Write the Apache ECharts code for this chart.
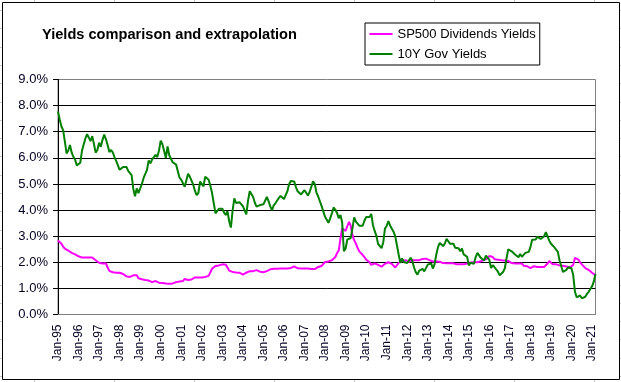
<!DOCTYPE html>
<html>
<head>
<meta charset="utf-8">
<script src="https://cdn.jsdelivr.net/npm/echarts@6/dist/echarts.min.js"></script>
<style>
html,body{margin:0;padding:0;background:#fff;}
#chart{width:621px;height:382px;}
</style>
</head>
<body>
<div id="chart"></div>
<script>
// ---- Data (monthly, Jan-95 .. Mar-21) ----
var monthNames = ['Jan','Feb','Mar','Apr','May','Jun','Jul','Aug','Sep','Oct','Nov','Dec'];
var firstYear = 1995, lastYear = 2021, lastYearMonths = 3;

// S&P 500 dividend yield, %
var dividendYield = [
  2.84,2.78,2.71,2.60,2.52,2.48,2.45,2.40,2.36,2.33,2.30,2.28,
  2.23,2.20,2.18,2.18,2.18,2.17,2.18,2.20,2.18,2.17,2.08,2.01,
  1.98,1.95,1.95,1.97,1.96,1.80,1.67,1.64,1.62,1.60,1.60,1.60,
  1.60,1.60,1.55,1.50,1.46,1.44,1.44,1.44,1.50,1.55,1.50,1.39,
  1.37,1.35,1.33,1.32,1.32,1.30,1.28,1.24,1.23,1.28,1.25,1.22,
  1.22,1.21,1.20,1.19,1.18,1.18,1.18,1.19,1.21,1.24,1.26,1.26,
  1.26,1.28,1.36,1.31,1.32,1.34,1.34,1.38,1.42,1.42,1.42,1.42,
  1.42,1.43,1.44,1.46,1.48,1.52,1.75,1.78,1.86,1.84,1.88,1.92,
  1.92,1.95,1.91,1.80,1.68,1.65,1.63,1.62,1.61,1.62,1.60,1.56,
  1.53,1.55,1.60,1.66,1.66,1.66,1.66,1.68,1.70,1.70,1.64,1.60,
  1.62,1.66,1.66,1.70,1.73,1.73,1.75,1.76,1.75,1.76,1.76,1.76,
  1.76,1.76,1.76,1.76,1.78,1.80,1.84,1.80,1.77,1.76,1.76,1.76,
  1.76,1.76,1.76,1.75,1.74,1.73,1.74,1.80,1.82,1.84,1.86,1.92,
  2.01,2.06,2.03,2.03,2.08,2.12,2.20,2.35,2.45,2.90,3.30,3.25,
  3.20,3.38,3.55,3.40,3.05,2.85,2.72,2.55,2.42,2.35,2.28,2.20,
  2.10,2.05,2.00,1.90,1.94,1.96,1.94,1.90,1.86,1.83,1.88,1.94,
  1.97,2.00,1.97,1.94,1.88,1.80,1.82,1.98,2.03,2.05,2.07,2.08,
  2.08,2.02,2.00,2.08,2.08,2.08,2.08,2.08,2.10,2.13,2.15,2.14,
  2.12,2.08,2.03,2.03,2.03,2.03,2.03,2.02,1.98,1.97,1.96,1.96,
  1.96,1.96,1.96,1.96,1.92,1.92,1.92,1.92,1.92,1.92,1.93,1.95,
  1.98,1.99,2.00,2.00,2.00,2.00,2.00,2.04,2.08,2.09,2.10,2.15,
  2.24,2.28,2.20,2.12,2.12,2.10,2.08,2.08,2.07,2.07,2.06,2.05,
  2.00,1.97,1.95,1.95,1.95,1.95,1.95,1.95,1.87,1.86,1.85,1.82,
  1.78,1.83,1.85,1.82,1.82,1.82,1.82,1.82,1.82,1.78,1.95,2.05,
  2.00,1.92,1.92,1.92,1.90,1.88,1.87,1.87,1.85,1.84,1.82,1.80,
  1.78,1.90,2.17,2.20,2.10,2.00,1.92,1.85,1.78,1.72,1.71,1.70,
  1.60,1.55,1.50
];

// 10-year government bond yield, %
var gov10Y = [
  7.78,7.47,7.20,7.06,6.63,6.17,6.28,6.49,6.20,6.04,5.93,5.71,
  5.65,5.81,6.27,6.51,6.74,6.91,6.87,6.64,6.83,6.53,6.20,6.30,
  6.58,6.42,6.69,6.89,6.71,6.49,6.22,6.30,6.21,6.03,5.88,5.81,
  5.54,5.57,5.65,5.64,5.65,5.50,5.46,5.34,4.81,4.53,4.83,4.65,
  4.72,5.00,5.23,5.18,5.54,5.90,5.79,5.94,5.92,6.11,6.03,6.28,
  6.66,6.52,6.26,5.99,6.44,6.10,6.05,5.83,5.80,5.74,5.72,5.24,
  5.16,5.10,4.89,5.14,5.39,5.28,5.24,4.97,4.73,4.57,4.65,5.09,
  5.04,4.91,5.28,5.21,5.16,4.93,4.65,4.26,3.87,3.94,4.05,4.03,
  4.05,3.90,3.81,3.96,3.57,3.33,3.98,4.45,4.27,4.29,4.30,4.27,
  4.15,4.08,3.83,4.35,4.72,4.73,4.50,4.28,4.13,4.10,4.19,4.23,
  4.22,4.17,4.50,4.34,4.14,4.00,4.18,4.26,4.20,4.46,4.54,4.47,
  4.42,4.57,4.72,4.99,5.11,5.11,5.09,4.88,4.72,4.73,4.60,4.56,
  4.76,4.72,4.56,4.69,4.75,5.10,5.00,4.67,4.52,4.53,4.15,4.10,
  3.74,3.74,3.51,3.68,3.88,4.10,4.01,3.89,3.69,3.81,3.53,2.42,
  2.52,2.87,2.82,2.93,3.29,3.72,3.56,3.59,3.40,3.39,3.40,3.59,
  3.73,3.69,3.73,3.85,3.42,3.20,3.01,2.70,2.65,2.54,2.76,3.29,
  3.39,3.58,3.41,3.46,3.17,3.00,3.00,2.30,1.98,2.15,2.01,1.98,
  1.97,1.97,2.17,2.05,1.80,1.62,1.53,1.68,1.72,1.75,1.65,1.72,
  1.91,1.98,1.96,1.76,1.93,2.30,2.58,2.74,2.81,2.62,2.72,2.90,
  2.86,2.71,2.72,2.71,2.56,2.60,2.54,2.42,2.53,2.30,2.33,2.21,
  1.88,1.98,2.04,1.94,2.20,2.36,2.32,2.17,2.17,2.07,2.26,2.24,
  2.09,1.78,1.89,1.81,1.81,1.64,1.50,1.56,1.63,1.76,2.14,2.49,
  2.43,2.42,2.48,2.30,2.30,2.19,2.32,2.21,2.20,2.36,2.35,2.40,
  2.58,2.86,2.84,2.87,2.98,2.91,2.89,2.89,3.00,3.15,3.12,2.83,
  2.71,2.68,2.57,2.53,2.40,2.07,2.06,1.63,1.70,1.71,1.81,1.86,
  1.76,1.50,0.87,0.66,0.67,0.73,0.62,0.65,0.68,0.79,0.87,0.93,
  1.08,1.26,1.55
];

var seriesNames = ['SP500 Dividends Yields', '10Y Gov Yields'];
var titleText = 'Yields comparison and extrapolation';

// category labels like "Jan-95"
var categories = [];
for (var y = firstYear; y <= lastYear; y++) {
  var nm = (y === lastYear) ? lastYearMonths : 12;
  for (var m = 0; m < nm; m++) {
    categories.push(monthNames[m] + '-' + String(y % 100).padStart(2, '0'));
  }
}

var FONT = "'Liberation Sans', Arial, sans-serif";
var chart = echarts.init(document.getElementById('chart'), null, {renderer: 'canvas'});

// spreadsheet cell lines peeking outside the chart frame
var cellColor = '#c8c8c8';
var deco = [];
[34,114,194,274,354,434,514,594].forEach(function (x) {
  deco.push({type: 'line', shape: {x1: x + 0.5, y1: 0, x2: x + 0.5, y2: 2}, style: {stroke: cellColor, lineWidth: 1}, silent: true});
  deco.push({type: 'line', shape: {x1: x + 0.5, y1: 380, x2: x + 0.5, y2: 382}, style: {stroke: cellColor, lineWidth: 1}, silent: true});
});
for (var ry = 10; ry < 380; ry += 18.3) {
  var yy = Math.round(ry) + 0.5;
  deco.push({type: 'line', shape: {x1: 0, y1: yy, x2: 2, y2: yy}, style: {stroke: cellColor, lineWidth: 1}, silent: true});
  deco.push({type: 'line', shape: {x1: 620, y1: yy, x2: 621, y2: yy}, style: {stroke: cellColor, lineWidth: 1}, silent: true});
}
deco.push({
  type: 'rect', shape: {x: 2.5, y: 2.5, width: 617, height: 377},
  style: {fill: null, stroke: '#000', lineWidth: 1}, silent: true, z: -1
});

chart.setOption({
  animation: false,
  backgroundColor: '#fff',
  textStyle: {fontFamily: FONT},
  title: {
    text: titleText,
    left: 42, top: 27, padding: 0,
    textStyle: {fontFamily: FONT, fontSize: 14.6, fontWeight: 'bold', color: '#000'}
  },
  legend: {
    data: seriesNames,
    orient: 'vertical',
    left: 365, top: 23,
    padding: [4, 4, 4, 4.5],
    itemGap: 6,
    itemWidth: 23, itemHeight: 2,
    icon: 'rect',
    borderColor: '#000', borderWidth: 1,
    backgroundColor: '#fff',
    textStyle: {fontFamily: FONT, fontSize: 13, color: '#000', lineHeight: 14}
  },
  graphic: deco,
  grid: {
    left: 58, right: 25.5, top: 79.5, bottom: 67.5,
    show: true, borderColor: '#808080', borderWidth: 1, backgroundColor: '#fff'
  },
  xAxis: {
    type: 'category',
    data: categories,
    boundaryGap: false,
    axisLine: {show: true, lineStyle: {color: '#808080', width: 1}},
    axisTick: {show: false},
    splitLine: {show: false},
    axisLabel: {
      interval: function (idx) { return idx % 12 === 0; },
      rotate: 90,
      margin: 10,
      fontFamily: FONT, fontSize: 12, color: '#000022'
    }
  },
  yAxis: {
    type: 'value',
    min: 0, max: 9, interval: 1,
    axisLine: {show: true, lineStyle: {color: '#000', width: 1}},
    axisTick: {show: true, length: 5, inside: false, lineStyle: {color: '#000'}},
    splitLine: {show: true, showMinLine: false, showMaxLine: false, lineStyle: {color: '#000', width: 1}},
    axisLabel: {
      margin: 10,
      formatter: function (v) { return v.toFixed(1) + '%'; },
      fontFamily: FONT, fontSize: 13, color: '#000022'
    }
  },
  series: [
    {
      name: seriesNames[0], type: 'line', data: dividendYield,
      symbol: 'none', smooth: false,
      lineStyle: {color: '#ff00ff', width: 2},
      itemStyle: {color: '#ff00ff'},
      z: 2
    },
    {
      name: seriesNames[1], type: 'line', data: gov10Y,
      symbol: 'none', smooth: false,
      lineStyle: {color: '#008000', width: 2},
      itemStyle: {color: '#008000'},
      z: 3
    }
  ]
});
</script>
</body>
</html>
